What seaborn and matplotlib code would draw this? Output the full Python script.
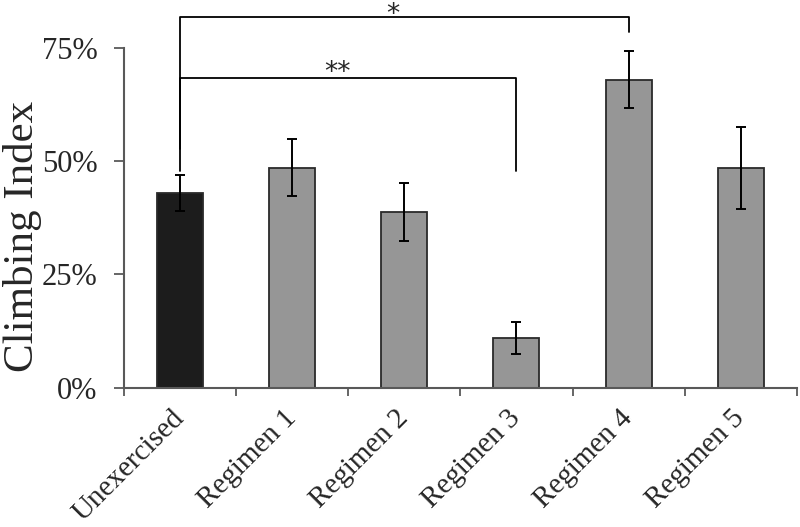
import matplotlib
matplotlib.use("Agg")
import matplotlib.pyplot as plt
import seaborn as sns
import numpy as np
import pandas as pd

categories = ["Unexercised", "Regimen 1", "Regimen 2", "Regimen 3", "Regimen 4", "Regimen 5"]
climbing_index = [43.0, 48.5, 38.8, 11.0, 68.0, 48.5]
error = [4.0, 6.3, 6.4, 3.5, 6.3, 9.0]
yticks = [0, 25, 50, 75]
ytick_labels = ["0%", "25%", "50%", "75%"]
bar_colors = ["#1c1c1c", "#969696", "#969696", "#969696", "#969696", "#969696"]

sns.set_theme(style="white")
plt.rcParams["font.family"] = ["Liberation Serif", "DejaVu Serif"]

df = pd.DataFrame({"group": categories, "value": climbing_index})

fig = plt.figure(figsize=(8, 5.27), dpi=100)
ax = fig.add_axes([0.155, 0.2643, 0.841, 0.645])

sns.barplot(data=df, x="group", y="value", hue="group", palette=bar_colors,
            legend=False, width=0.41, edgecolor="#2a2a2a", linewidth=1.3,
            saturation=1, ax=ax)
xs = np.arange(len(categories))
ax.errorbar(xs, climbing_index, yerr=error, fmt="none", ecolor="black",
            elinewidth=1.4, capsize=3.5, capthick=1.4, zorder=5)

ax.set_ylim(0, 75)
ax.set_xlim(-0.5, len(categories) - 0.5)
ax.set_yticks(yticks)
ax.set_yticklabels(ytick_labels, fontsize=22)
ax.set_xticks(xs)
ax.set_xticklabels(categories, fontsize=21, rotation=45, ha="right",
                   va="center", rotation_mode="anchor")
ax.set_xticks(np.arange(-0.5, len(categories), 1.0), minor=True)
ax.tick_params(axis="x", which="major", length=0, pad=19)
ax.tick_params(axis="x", which="minor", length=6, width=1.3, color="#595959",
               direction="out", bottom=True)
ax.tick_params(axis="y", which="major", length=7, width=1.3, color="#595959",
               direction="out", left=True, pad=12)
ax.set_xlabel("")
ax.set_ylabel("Climbing Index", fontsize=31)
ax.yaxis.set_label_coords(-0.122, 0.444)

for s in ["top", "right"]:
    ax.spines[s].set_visible(False)
for s in ["left", "bottom"]:
    ax.spines[s].set_color("#595959")
    ax.spines[s].set_linewidth(1.5)

# significance brackets
def bracket(x1, x2, y, yl1, yl2, text, ty):
    ax.plot([x1, x1, x2, x2], [yl1, y, y, yl2], color="black", lw=1.3,
            clip_on=False, zorder=6)
    ax.text((x1 + x2) / 2 - 0.1, ty, text, ha="center", va="top",
            fontsize=19, clip_on=False, fontfamily="DejaVu Sans")

bracket(0, 4, 81.9, 52.7, 78.4, "*", 85.0)
bracket(0, 3, 68.4, 47.8, 47.8, "**", 72.4)

fig.savefig("out.png", dpi=100)
